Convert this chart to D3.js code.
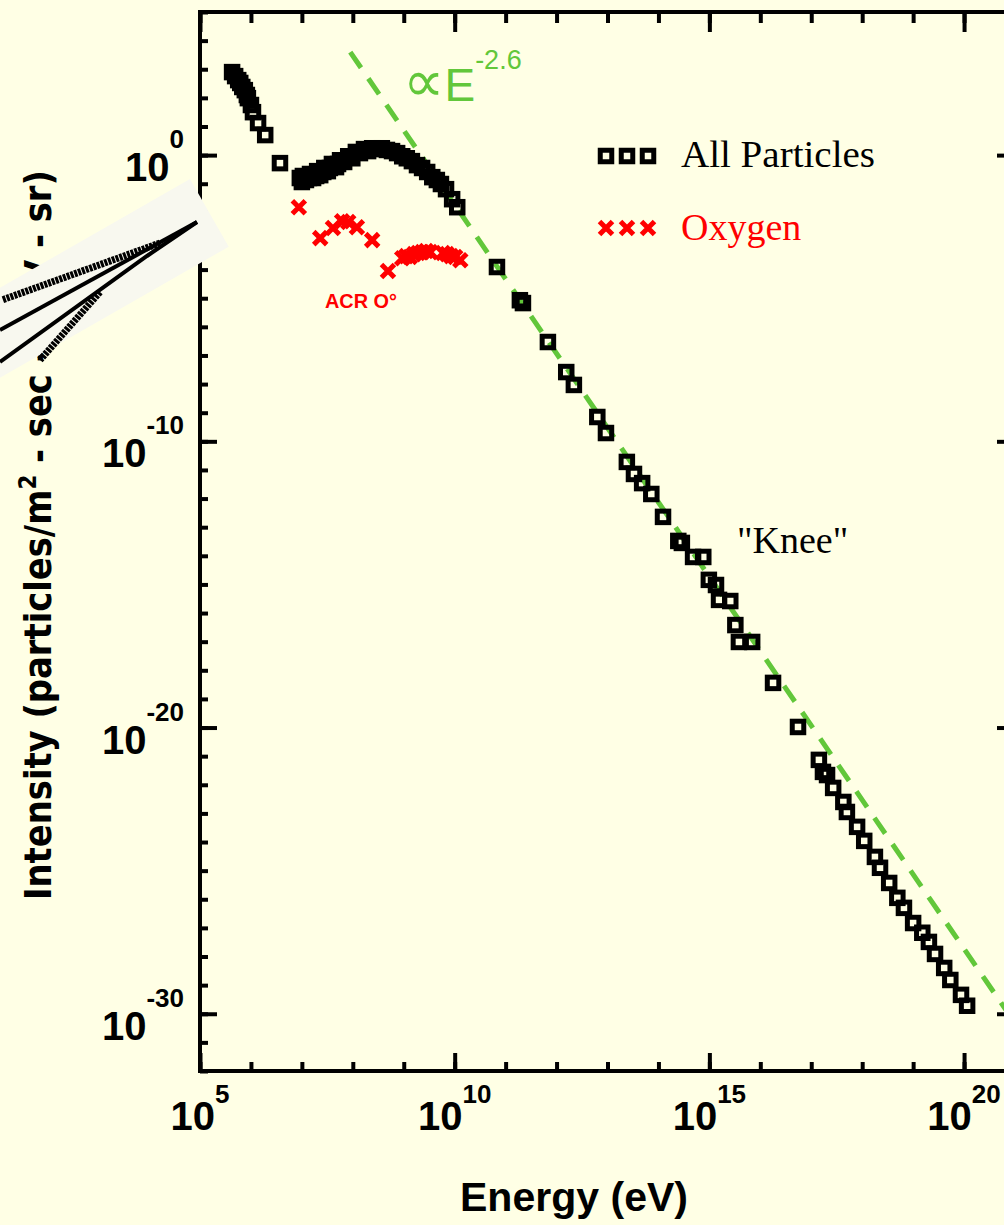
<!DOCTYPE html>
<html>
<head>
<meta charset="utf-8">
<script src="https://cdn.jsdelivr.net/npm/d3@7"></script>
<style>
body { margin: 0; background: #ffffe5; }
</style>
</head>
<body>
<script>
/*global d3*/

var width = 1004, height = 1225;

// all particles: log10(E / eV) and log10(intensity)
var allLogE = [5.63, 5.69, 5.75, 5.79, 5.83, 5.88, 5.92, 5.94, 6.00, 6.04, 6.14, 6.28, 6.57,
    6.96, 7.00, 7.02, 7.08, 7.14, 7.16, 7.22, 7.28, 7.30, 7.36, 7.42, 7.44, 7.51, 7.55, 7.59,
    7.67, 7.71, 7.75, 7.83, 7.91, 7.99,
    8.06, 8.14, 8.22, 8.30, 8.38, 8.48, 8.57, 8.67, 8.77, 8.87, 8.97, 9.06, 9.16, 9.26, 9.36,
    9.46, 9.56, 9.65, 9.73, 9.83, 9.95, 10.05,
    10.83, 11.28, 11.34, 11.83, 12.19, 12.34, 12.80, 12.97, 13.38, 13.52, 13.68, 13.86, 14.09,
    14.39, 14.46, 14.68, 14.88, 14.99, 15.13, 15.19, 15.41, 15.51, 15.58, 15.84, 16.25, 16.74,
    17.15, 17.23, 17.31, 17.43, 17.63, 17.70, 17.90, 18.04, 18.25, 18.35, 18.53, 18.69, 18.82,
    19.00, 19.18, 19.31, 19.43, 19.61, 19.73, 19.94, 20.06];
var allLogI = [2.90, 2.76, 2.62, 2.52, 2.38, 2.27, 2.10, 1.99, 1.75, 1.50, 1.12, 0.70, -0.28,
    -0.80, -0.94, -0.73, -0.87, -0.80, -0.66, -0.80, -0.73, -0.56, -0.70, -0.59, -0.45, -0.56, -0.45, -0.31,
    -0.42, -0.31, -0.18, -0.24, -0.04, -0.11,
    0.11, 0.07, 0.21, 0.14, 0.24, 0.21, 0.24, 0.18, 0.14, 0.07, -0.04, -0.11,
    -0.21, -0.35, -0.45, -0.59, -0.77, -0.87, -1.01, -1.19, -1.54, -1.82,
    -3.91, -5.07, -5.17, -6.53, -7.58, -8.03, -9.15, -9.71, -10.72, -11.14, -11.46, -11.84, -12.64,
    -13.48, -13.55, -14.04, -14.04, -14.84, -15.02, -15.54, -15.58, -16.42, -17.01, -17.01, -18.44, -19.98,
    -21.13, -21.55, -21.66, -22.11, -22.60, -22.95, -23.47, -23.96, -24.52, -24.90, -25.43, -25.95, -26.30,
    -26.83, -27.17, -27.49, -27.91, -28.40, -28.82, -29.34, -29.72];

// oxygen
var oxyLogE = [6.94, 7.36, 7.61, 7.79, 7.91, 8.08, 8.38, 8.69, 8.97, 9.05, 9.12, 9.20, 9.28,
    9.36, 9.44, 9.52, 9.77, 9.85, 9.93, 10.01, 10.11];
var oxyLogI = [-1.82, -2.90, -2.55, -2.31, -2.34, -2.52, -2.97, -4.05, -3.60, -3.53, -3.56, -3.46, -3.42,
    -3.39, -3.35, -3.39, -3.42, -3.46, -3.53, -3.56, -3.67];

// power law guide  I ~ E^-2.6
var fitIndex = -2.6;
var fitStartLogE = 7.95, fitStartLogI = 3.6, fitEndLogE = 21;

var xMajor = [5, 10, 15, 20];
var yMajor = [0, -10, -20, -30];

var green = "#62c73a";

var svg = d3.select("body").append("svg")
    .attr("width", width)
    .attr("height", height)
    .style("font-family", "'Liberation Sans', Arial, sans-serif");

svg.append("rect").attr("width", width).attr("height", height).attr("fill", "#ffffe5");

var pLeft = 200, pRight = 1015, pTop = 12, pBottom = 1071;

var x = d3.scaleLog().domain([1e5, 1e21]).range([pLeft, pRight]);
var y = d3.scaleLog().domain([1e-32, 1e5]).range([pBottom, pTop]);

var p10 = function (e) { return Math.pow(10, e); };

// ---- y axis title (partly hidden by the inset later)
svg.append("text")
    .attr("transform", "translate(51,900) rotate(-90)")
    .attr("font-size", 38)
    .attr("font-weight", "bold")
    .attr("font-family", "'Liberation Sans Narrow', 'DejaVu Sans Condensed', sans-serif")
    .attr("textLength", 730)
    .attr("lengthAdjust", "spacingAndGlyphs")
    .call(function (t) {
        t.append("tspan").text("Intensity (particles/m");
        t.append("tspan").attr("dy", -15).attr("font-size", 24).text("2");
        t.append("tspan").attr("dy", 15).text(" - sec - GeV - sr)");
    });

// ---- clip for plotted data
svg.append("defs").append("clipPath").attr("id", "plot")
    .append("rect").attr("x", pLeft).attr("y", pTop)
    .attr("width", pRight - pLeft).attr("height", pBottom - pTop);

// ---- axes, ticks pointing inwards
var xMinor = d3.range(5, 22).map(p10);
var yMinor = d3.range(-32, 6).map(p10);

function styleAxis(g) {
    g.select(".domain").remove();
    g.selectAll(".tick line").attr("stroke", "#000").attr("stroke-width", 4);
    g.selectAll(".tick text").remove();
}

svg.append("g").attr("transform", "translate(0," + pBottom + ")")
    .call(d3.axisBottom(x).tickValues(xMinor).tickSize(-9)).call(styleAxis);
svg.append("g").attr("transform", "translate(0," + pBottom + ")")
    .call(d3.axisBottom(x).tickValues(xMajor.map(p10)).tickSize(-18)).call(styleAxis);
svg.append("g").attr("transform", "translate(0," + pTop + ")")
    .call(d3.axisTop(x).tickValues(xMinor).tickSize(-11)).call(styleAxis);
svg.append("g").attr("transform", "translate(0," + pTop + ")")
    .call(d3.axisTop(x).tickValues(xMajor.map(p10)).tickSize(-20)).call(styleAxis);
svg.append("g").attr("transform", "translate(" + pLeft + ",0)")
    .call(d3.axisLeft(y).tickValues(yMinor).tickSize(-8)).call(styleAxis);
svg.append("g").attr("transform", "translate(" + pLeft + ",0)")
    .call(d3.axisLeft(y).tickValues(yMajor.map(p10)).tickSize(-17)).call(styleAxis);
svg.append("g").attr("transform", "translate(" + pRight + ",0)")
    .call(d3.axisRight(y).tickValues(yMinor).tickSize(-8)).call(styleAxis);
svg.append("g").attr("transform", "translate(" + pRight + ",0)")
    .call(d3.axisRight(y).tickValues(yMajor.map(p10)).tickSize(-18)).call(styleAxis);

svg.append("rect")
    .attr("x", pLeft).attr("y", pTop)
    .attr("width", pRight - pLeft).attr("height", pBottom - pTop)
    .attr("fill", "none").attr("stroke", "#000").attr("stroke-width", 4);

// tick labels 10^n
svg.selectAll(".ylab").data(yMajor).enter().append("text")
    .attr("class", "ylab")
    .attr("x", 184)
    .attr("y", function (d) { return y(p10(d)) + 26; })
    .attr("text-anchor", "end")
    .attr("font-weight", "bold")
    .attr("font-size", 40)
    .each(function (d) {
        var t = d3.select(this);
        t.append("tspan").text("10");
        t.append("tspan").attr("dy", -33).attr("font-size", 26).text(d);
    });

svg.selectAll(".xlab").data(xMajor).enter().append("text")
    .attr("class", "xlab")
    .attr("x", function (d) { return x(p10(d)); })
    .attr("y", 1130)
    .attr("text-anchor", "middle")
    .attr("font-weight", "bold")
    .attr("font-size", 40)
    .each(function (d) {
        var t = d3.select(this);
        t.append("tspan").text("10");
        t.append("tspan").attr("dy", -27).attr("font-size", 26).text(d);
    });

svg.append("text")
    .attr("x", 574).attr("y", 1211)
    .attr("text-anchor", "middle")
    .attr("font-weight", "bold")
    .attr("font-size", 41)
    .attr("textLength", 228)
    .attr("lengthAdjust", "spacingAndGlyphs")
    .text("Energy (eV)");

// ---- data layer
var plot = svg.append("g").attr("clip-path", "url(#plot)");

var fitLine = d3.line()
    .x(function (d) { return x(p10(d)); })
    .y(function (d) { return y(p10(fitStartLogI + fitIndex * (d - fitStartLogE))); });

plot.append("path")
    .datum([fitStartLogE, fitEndLogE])
    .attr("d", fitLine)
    .attr("fill", "none")
    .attr("stroke", green)
    .attr("stroke-width", 5)
    .attr("stroke-dasharray", "19,13");

var sq = 11.5;
plot.selectAll(".all").data(allLogE).enter().append("rect")
    .attr("class", "all")
    .attr("x", function (d) { return x(p10(d)) - sq / 2; })
    .attr("y", function (d, i) { return y(p10(allLogI[i])) - sq / 2; })
    .attr("width", sq).attr("height", sq)
    .attr("fill", "none").attr("stroke", "#000").attr("stroke-width", 5);

var cross = "M-6.5,-6.5L6.5,6.5M-6.5,6.5L6.5,-6.5";
plot.selectAll(".oxy").data(oxyLogE).enter().append("path")
    .attr("class", "oxy")
    .attr("transform", function (d, i) {
        return "translate(" + x(p10(d)) + "," + y(p10(oxyLogI[i])) + ")";
    })
    .attr("d", cross)
    .attr("stroke", "#ff0000").attr("stroke-width", 5).attr("fill", "none");

// ---- annotations
svg.append("text")
    .attr("x", 403).attr("y", 101)
    .attr("fill", green)
    .call(function (t) {
        t.append("tspan").attr("font-size", 58).attr("font-family", "'DejaVu Sans', sans-serif").text("\u221d");
        t.append("tspan").attr("font-size", 46).text("E");
        t.append("tspan").attr("dy", -32).attr("font-size", 27).text("-2.6");
    });

svg.append("text")
    .attr("x", 325).attr("y", 308)
    .attr("fill", "#ff0000")
    .attr("font-weight", "bold")
    .attr("font-size", 20)
    .attr("textLength", 72)
    .attr("lengthAdjust", "spacingAndGlyphs")
    .text("ACR O\u00b0");

svg.append("text")
    .attr("x", 737).attr("y", 553)
    .attr("font-family", "'Liberation Serif', 'Times New Roman', serif")
    .attr("font-size", 38)
    .text("\"Knee\"");

// legend
var legend = svg.append("g").attr("font-family", "'Liberation Serif', 'Times New Roman', serif");
var legX = [606, 627, 648];
legend.selectAll(".lsq").data(legX).enter().append("rect")
    .attr("x", function (d) { return d - sq / 2; })
    .attr("y", 156 - sq / 2)
    .attr("width", sq).attr("height", sq)
    .attr("fill", "none").attr("stroke", "#000").attr("stroke-width", 5);
legend.append("text").attr("x", 681).attr("y", 167).attr("font-size", 38)
    .attr("textLength", 194).attr("lengthAdjust", "spacingAndGlyphs")
    .text("All Particles");
legend.selectAll(".lx").data(legX).enter().append("path")
    .attr("transform", function (d) { return "translate(" + d + ",228)"; })
    .attr("d", cross)
    .attr("stroke", "#ff0000").attr("stroke-width", 5);
legend.append("text").attr("x", 681).attr("y", 240).attr("font-size", 38)
    .attr("fill", "#ff0000")
    .text("Oxygen");

// ---- stray tilted inset pasted over the left axis
var inset = svg.append("g");
inset.append("rect")
    .attr("transform", "translate(190,179) rotate(150.2)")
    .attr("x", 0).attr("y", -78)
    .attr("width", 300).attr("height", 78)
    .attr("fill", "#f8f8ef");
inset.append("path").attr("d", "M197,222L0,330").attr("stroke", "#000").attr("stroke-width", 4).attr("fill", "none");
inset.append("path").attr("d", "M197,222L147,256L0,362").attr("stroke", "#000").attr("stroke-width", 4).attr("fill", "none");
inset.append("path").attr("d", "M160,243L2,300").attr("stroke", "#000").attr("stroke-width", 7)
    .attr("stroke-dasharray", "3,1").attr("fill", "none");
inset.append("path").attr("d", "M100,292L40,360").attr("stroke", "#000").attr("stroke-width", 7)
    .attr("stroke-dasharray", "3,1").attr("fill", "none");
</script>
</body>
</html>
